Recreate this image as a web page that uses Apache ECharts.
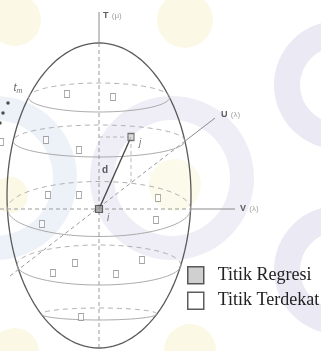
<!DOCTYPE html>
<html>
<head>
<meta charset="utf-8">
<script src="https://cdn.jsdelivr.net/npm/echarts@6/dist/echarts.min.js"></script>
<style>
  html, body { margin: 0; padding: 0; background: #fff; }
  #main { width: 321px; height: 351px; }
</style>
</head>
<body>
<div id="main"></div>
<script>
// ellipsoid body: centre and radii (diagram units, origin at point i)
const bodyCentre = [0, 13.5]
const bodyRadii = [92, 152.5]
// horizontal slices of the ellipsoid: height and half depth
const sliceY = [111.5, 68, 0, -56, -105]
const sliceDepth = [14.5, 16, 27.5, 20, 6]
// Titik Terdekat (nearest points)
const nearX = [-32, 14, -53, -20, -51, -20, -57, 59, 57, -24, -46, 43, 17, -18, -98]
const nearY = [115, 112, 69, 59, 14, 14, -15, 11, -11, -54, -64, -51, -65, -108, 67]
const pointJ = [32, 72]
// Titik Regresi
const pointI = [0, 0]
// t_m dots
const tmX = [-91, -96, -99]
const tmY = [106, 96, 86]
// axes: start (dashed end) and end (solid end)
const axisNames = ['T', 'U', 'V']
const axisUnits = ['(μ)', '(λ)', '(λ)']
const axisStart = [[0, -139], [-89, -67], [-99, 0]]
const axisEnd = [[0, 197], [116, 91], [136, 0]]
const axisLabelPos = [[4, 193], [122, 94], [141, 0]]

const chartDom = document.getElementById('main')
const myChart = echarts.init(chartDom)

function ellipsePts(api, cx, cy, rx, ry, a0, a1, n) {
  const pts = []
  for (let k = 0; k <= n; k++) {
    const t = a0 + (a1 - a0) * k / n
    pts.push(api.coord([cx + rx * Math.cos(t), cy + ry * Math.sin(t)]))
  }
  return pts
}

// where a segment leaves the ellipse (t in 0..1)
function exitT(p0, p1) {
  const a = bodyRadii[0], b = bodyRadii[1]
  const dx = (p1[0] - p0[0]) / a, dy = (p1[1] - p0[1]) / b
  const ox = (p0[0] - bodyCentre[0]) / a, oy = (p0[1] - bodyCentre[1]) / b
  const A = dx * dx + dy * dy, B = 2 * (ox * dx + oy * dy), C = ox * ox + oy * oy - 1
  const disc = B * B - 4 * A * C
  if (disc < 0) return 0
  return Math.min(1, Math.max(0, (-B + Math.sqrt(disc)) / (2 * A)))
}

const dashStyle = { stroke: '#9a9a9a', lineWidth: 1, lineDash: [4, 3], fill: null }
const solidStyle = { stroke: '#8a8a8a', lineWidth: 1, fill: null }

var option = {
  animation: false,
  grid: { left: 0, right: 0, top: 0, bottom: 0 },
  xAxis: { type: 'value', min: -99, max: 222, show: false },
  yAxis: { type: 'value', min: -142, max: 209, show: false },
  graphic: {
    elements: [
      // faint watermark
      { type: 'ring', z: -10, shape: { cx: 338, cy: 85, r: 64, r0: 38 }, style: { fill: '#ebe9f4' } },
      { type: 'ring', z: -10, shape: { cx: 338, cy: 270, r: 64, r0: 38 }, style: { fill: '#ebe9f4' } },
      { type: 'ring', z: -10, shape: { cx: 172, cy: 178, r: 82, r0: 58 }, style: { fill: '#efeef6' } },
      { type: 'ring', z: -10, shape: { cx: -5, cy: 178, r: 82, r0: 58 }, style: { fill: '#ecf2f7' } },
      { type: 'circle', z: -10, shape: { cx: 185, cy: 20, r: 28 }, style: { fill: '#fcf8e6' } },
      { type: 'circle', z: -10, shape: { cx: 15, cy: 20, r: 26 }, style: { fill: '#fcf8e6' } },
      { type: 'circle', z: -10, shape: { cx: 175, cy: 185, r: 26 }, style: { fill: '#fcfaea' } },
      { type: 'circle', z: -10, shape: { cx: 10, cy: 195, r: 18 }, style: { fill: '#fcf8e6' } },
      { type: 'circle', z: -10, shape: { cx: 190, cy: 350, r: 26 }, style: { fill: '#fcf8e6' } },
      { type: 'circle', z: -10, shape: { cx: 15, cy: 352, r: 24 }, style: { fill: '#fcf8e6' } }
    ]
  },
  legend: {
    orient: 'vertical',
    left: 187,
    top: 266,
    padding: 0,
    itemWidth: 16,
    itemHeight: 17,
    itemGap: 7,
    icon: 'rect',
    textStyle: {
      fontFamily: 'Liberation Serif',
      fontSize: 18,
      color: '#222',
      padding: [0, 0, 0, 9]
    },
    data: [
      { name: 'Titik Regresi', itemStyle: { color: '#c4c4c4', borderColor: '#333', borderWidth: 1.5 } },
      { name: 'Titik Terdekat', itemStyle: { color: '#fff', borderColor: '#333', borderWidth: 1.5 } }
    ]
  },
  series: [
    {
      // outline of the ellipsoid
      type: 'custom',
      silent: true,
      clip: false,
      data: [[bodyCentre[0], bodyCentre[1], bodyRadii[0], bodyRadii[1]]],
      renderItem: function (params, api) {
        return {
          type: 'polyline',
          shape: { points: ellipsePts(api, api.value(0), api.value(1), api.value(2), api.value(3), 0, Math.PI * 2, 120) },
          style: { stroke: '#5a5a5a', lineWidth: 1.3, fill: null }
        }
      }
    },
    {
      // slices: back half dashed, front half solid
      type: 'custom',
      silent: true,
      clip: false,
      data: sliceY.map((y, k) => [y, sliceDepth[k]]),
      renderItem: function (params, api) {
        const cy = api.value(0), ry = api.value(1)
        const rel = (cy - bodyCentre[1]) / bodyRadii[1]
        const rx = bodyRadii[0] * Math.sqrt(Math.max(0, 1 - rel * rel))
        return {
          type: 'group',
          children: [
            { type: 'polyline', shape: { points: ellipsePts(api, bodyCentre[0], cy, rx, ry, 0, Math.PI, 60) }, style: { stroke: '#a8a8a8', lineWidth: 0.9, lineDash: [5, 4], fill: null } },
            { type: 'polyline', shape: { points: ellipsePts(api, bodyCentre[0], cy, rx, ry, Math.PI, Math.PI * 2, 60) }, style: { stroke: '#a0a0a0', lineWidth: 0.9, fill: null } }
          ]
        }
      }
    },
    {
      // axes T, U, V
      type: 'custom',
      silent: true,
      clip: false,
      data: axisStart.map((p, k) => [p[0], p[1], axisEnd[k][0], axisEnd[k][1]]),
      renderItem: function (params, api) {
        const p0 = [api.value(0), api.value(1)], p1 = [api.value(2), api.value(3)]
        const t = exitT(p0, p1)
        const pm = [p0[0] + (p1[0] - p0[0]) * t, p0[1] + (p1[1] - p0[1]) * t]
        const a = api.coord(p0), m = api.coord(pm), b = api.coord(p1)
        return {
          type: 'group',
          children: [
            { type: 'line', shape: { x1: a[0], y1: a[1], x2: m[0], y2: m[1] }, style: dashStyle },
            { type: 'line', shape: { x1: m[0], y1: m[1], x2: b[0], y2: b[1] }, style: solidStyle }
          ]
        }
      }
    },
    {
      // projection of j onto the U-V plane
      type: 'custom',
      silent: true,
      clip: false,
      data: [[pointJ[0], pointJ[1]]],
      renderItem: function (params, api) {
        const j = [api.value(0), api.value(1)]
        const uSlope = (axisEnd[1][1] - axisStart[1][1]) / (axisEnd[1][0] - axisStart[1][0])
        const baseY = axisStart[1][1] + (j[0] - axisStart[1][0]) * uSlope
        const pj = api.coord(j), pa = api.coord([0, j[1]]), pb = api.coord([j[0], baseY])
        return {
          type: 'group',
          children: [
            { type: 'line', shape: { x1: pa[0], y1: pa[1], x2: pj[0], y2: pj[1] }, style: { stroke: '#b0b0b0', lineWidth: 0.9, lineDash: [4, 3] } },
            { type: 'line', shape: { x1: pj[0], y1: pj[1], x2: pb[0], y2: pb[1] }, style: { stroke: '#b0b0b0', lineWidth: 0.9, lineDash: [4, 3] } }
          ]
        }
      }
    },
    {
      // distance d between i and j
      type: 'line',
      silent: true,
      symbol: 'none',
      data: [pointI, pointJ],
      lineStyle: { color: '#4a4a4a', width: 1.4 },
      z: 3
    },
    {
      name: 'Titik Terdekat',
      type: 'scatter',
      symbol: 'rect',
      symbolSize: [5, 7],
      itemStyle: { color: 'rgba(255,255,255,0.8)', borderColor: '#8c8c8c', borderWidth: 1 },
      data: nearX.map((x, k) => [x, nearY[k]]).concat([
        { value: pointJ, symbolSize: [6, 7], itemStyle: { color: '#d8d8d8', borderColor: '#555', borderWidth: 1.2 } }
      ]),
      z: 4
    },
    {
      name: 'Titik Regresi',
      type: 'scatter',
      symbol: 'rect',
      symbolSize: 7,
      itemStyle: { color: '#9a9a9a', borderColor: '#444', borderWidth: 1.2 },
      data: [pointI],
      z: 5
    },
    {
      // t_m dots
      type: 'scatter',
      symbol: 'circle',
      symbolSize: 3.5,
      itemStyle: { color: '#222' },
      data: tmX.map((x, k) => [x, tmY[k]]),
      z: 4
    },
    {
      // axis names
      type: 'scatter',
      symbolSize: 0,
      silent: true,
      data: axisLabelPos.map((p, k) => ({ value: p, name: axisNames[k], unit: axisUnits[k] })),
      label: {
        show: true,
        position: 'right',
        distance: 0,
        formatter: function (p) { return '{b|' + p.name + '} {s|' + p.data.unit + '}' },
        rich: {
          b: { fontFamily: 'Liberation Sans', fontWeight: 'bold', fontSize: 9, color: '#333' },
          s: { fontFamily: 'Liberation Sans', fontSize: 8, color: '#888' }
        }
      },
      z: 6
    },
    {
      // point and distance names
      type: 'scatter',
      symbolSize: 0,
      silent: true,
      data: [
        { value: [6, 39], name: 'd' },
        { value: [9, -9], name: 'i' },
        { value: [41, 66], name: 'j' },
        { value: [-81, 121], name: 'tm' }
      ],
      label: {
        show: true,
        position: 'inside',
        formatter: function (p) {
          if (p.name === 'd') return '{d|d}'
          if (p.name === 'tm') return '{t|t}{m|m}'
          return '{it|' + p.name + '}'
        },
        rich: {
          d: { fontFamily: 'Liberation Sans', fontWeight: 'bold', fontSize: 10, color: '#333' },
          it: { fontFamily: 'Liberation Sans', fontStyle: 'italic', fontSize: 10, color: '#555' },
          t: { fontFamily: 'Liberation Sans', fontStyle: 'italic', fontSize: 11, color: '#444' },
          m: { fontFamily: 'Liberation Sans', fontStyle: 'italic', fontSize: 7, color: '#444', padding: [6, 0, 0, 0] }
        }
      },
      z: 6
    }
  ]
}
option && myChart.setOption(option)
</script>
</body>
</html>
